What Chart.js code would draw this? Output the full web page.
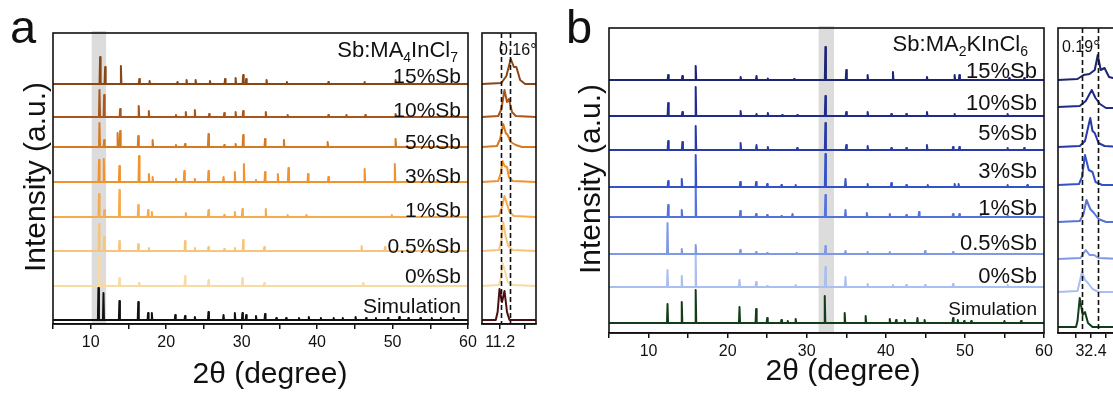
<!DOCTYPE html>
<html>
<head>
<meta charset="utf-8">
<script src="https://cdn.jsdelivr.net/npm/chart.js@4.4.1/dist/chart.umd.min.js"></script>
<style>
  body{margin:0;background:#fff;overflow:hidden;}
  #wrap{position:relative;width:1113px;height:394px;overflow:hidden;background:#fff;}
  canvas{position:absolute;left:0;top:0;}
</style>
</head>
<body>
<div id="wrap">
  <canvas id="aMain" width="1200" height="394"></canvas>
  <canvas id="aInset" width="1200" height="394"></canvas>
  <canvas id="bMain" width="1200" height="394"></canvas>
  <canvas id="bInset" width="1200" height="394"></canvas>
  <canvas id="deco" width="1200" height="394"></canvas>
</div>
<script>
const FONT = '"Liberation Sans", Arial, sans-serif';

// ---- data: sample names ----
const samples = ['15%Sb','10%Sb','5%Sb','3%Sb','1%Sb','0.5%Sb','0%Sb','Simulation'];

// ---- panel a: Sb:MA4InCl7, peaks as [2theta, height] ----
const peaksA15 = [[11.24,27],[11.91,17],[14.0,18],[16.44,5],[17.8,3],[21.5,2],[22.7,4],[23.9,4],[25.8,3],[27.8,5],[29.2,6],[30.2,9],[30.6,5],[33.3,4],[36.0,2],[41.5,2],[46.3,2],[50.4,4]];
const peaksA10 = [[11.16,27],[11.78,22],[13.9,8],[16.36,11],[17.7,6],[21.3,2],[22.6,5],[23.8,7],[25.7,3],[27.7,4],[29.2,5],[30.2,6],[33.2,5],[36.1,2],[41.5,2],[43.9,2],[46.4,2],[50.4,3]];
const peaksA5 = [[11.16,24],[11.78,7],[13.56,14],[13.9,16],[16.3,11],[18.2,7],[21.3,2],[22.5,3],[25.6,13],[27.7,2],[29.2,3],[30.2,12],[33.1,8],[35.6,7],[41.4,5],[50.4,8]];
const peaksA3 = [[11.1,22],[11.73,23],[13.8,16],[16.4,26],[17.7,8],[18.2,5],[21.3,3],[22.4,11],[23.8,3],[25.6,11],[27.6,5],[29.1,10],[30.3,18],[31.9,2],[33.1,10],[34.8,8],[36.2,14],[38.8,8],[41.5,5],[46.3,13],[50.3,18]];
const peaksA1 = [[11.1,23],[11.8,7],[13.8,27],[16.3,12],[17.6,7],[18.1,5],[22.6,4],[25.6,7],[27.7,2],[29.1,5],[30.1,8],[33.2,8],[36.1,2],[38.6,2],[49.9,2]];
const peaksA05 = [[11.1,27],[11.78,14],[13.8,10],[16.3,7],[17.7,3],[22.5,10],[23.8,3],[25.6,4],[27.7,2],[29.1,3],[30.2,11],[33.0,4],[45.9,5],[49.0,4]];
const peaksA0 = [[11.1,30],[11.78,6],[13.8,8],[16.4,3],[22.5,10],[25.6,6],[30.1,8],[33.0,3],[46.1,3]];
const peaksASim = [[11.02,32],[11.69,27],[13.8,19],[16.3,18],[17.6,7],[18.1,7],[21.2,5],[22.5,4],[23.8,3],[25.6,8],[27.6,5],[29.1,7],[30.1,7],[30.6,5],[31.9,4],[33.1,6],[34.6,2],[35.9,2],[37.6,2],[38.9,3],[40.5,2],[42.2,2],[43.4,2],[45.1,3],[46.5,2],[47.8,2],[49.4,2],[50.9,3],[52.1,2],[53.7,2],[55.2,2],[56.4,2],[58.1,2]];
const offsetsA = [240,207,177,142,107,73,38,4];

// panel a zoom (11.2 deg region), points as [2theta, height]
const zoomA15 = [[10.91,0],[11.22,1],[11.3,8],[11.37,25],[11.42,17],[11.46,17],[11.52,4],[11.6,0],[11.77,0]];
const zoomA10 = [[10.91,0],[11.17,1],[11.22,8],[11.27,27],[11.31,15],[11.34,18],[11.39,5],[11.45,1],[11.77,0]];
const zoomA5 = [[10.91,0],[11.15,1],[11.2,8],[11.25,23],[11.29,14],[11.32,12],[11.37,5],[11.45,2],[11.55,0],[11.77,0]];
const zoomA3 = [[10.91,0],[11.17,1],[11.21,9],[11.24,21],[11.27,16],[11.31,15],[11.34,5],[11.4,1],[11.77,0]];
const zoomA1 = [[10.91,0],[11.18,1],[11.23,10],[11.27,21],[11.31,13],[11.35,5],[11.42,1],[11.77,0]];
const zoomA05 = [[10.91,0],[11.18,1],[11.22,10],[11.25,29],[11.29,14],[11.33,5],[11.4,1],[11.77,0]];
const zoomA0 = [[10.91,0],[11.18,1],[11.21,8],[11.24,23],[11.28,14],[11.32,4],[11.4,1],[11.77,0]];
const zoomASim = [[10.91,0],[11.13,0],[11.16,8],[11.19,31],[11.23,18],[11.27,29],[11.31,8],[11.35,0],[11.77,0]];
const shiftA = [11.21, 11.35];   // dashed guide lines (0.16 deg)

// ---- panel b: Sb:MA2KInCl6 ----
const peaksB15 = [[12.48,5],[14.28,4],[15.96,14],[21.64,3],[23.65,4],[25.08,1.5],[28.4,1],[32.36,33],[35.0,10],[37.7,5],[40.9,8],[45.2,3],[48.7,5],[49.3,5],[55.6,2],[57.5,2]];
const peaksB10 = [[12.48,13],[14.28,4],[15.96,29],[21.64,5],[23.65,2],[25.08,3],[26.9,1],[28.8,1],[32.36,20],[35.0,4],[37.7,4],[40.7,2],[42.6,2],[45.2,4],[48.7,2],[55.4,2]];
const peaksB5 = [[12.48,9],[14.28,8],[15.96,24],[21.64,7],[23.65,5],[25.08,3],[28.8,2],[32.36,27],[35.0,5],[37.7,4],[40.7,2],[42.6,2],[45.2,5],[48.5,3],[49.3,3],[55.4,2],[57.5,2]];
const peaksB3 = [[12.48,6],[14.2,8],[15.96,32],[21.6,5],[23.6,5],[25.0,3],[26.8,2],[28.6,2],[32.36,33],[34.9,8],[37.7,3],[40.7,4],[42.6,2],[45.3,2],[48.7,3],[49.2,3],[55.4,2],[57.9,2]];
const peaksB1 = [[12.48,12],[14.2,7],[15.96,32],[21.6,6],[23.6,3],[25.0,2],[26.8,1],[28.2,3],[32.36,22],[34.9,7],[37.6,4],[40.5,3],[42.6,2],[44.2,5],[48.5,3],[49.3,3],[52.0,2],[55.4,2]];
const peaksB05 = [[12.4,31],[14.2,5],[15.96,9],[21.6,4],[23.6,2],[25.0,1],[28.7,1],[32.36,8],[34.9,3],[37.7,2],[40.5,2],[44.97,3],[48.5,2]];
const peaksB0 = [[12.4,17],[14.2,11],[15.96,32],[21.5,7],[23.6,5],[25.0,1],[28.6,2],[32.36,20],[34.9,10],[37.7,3],[40.9,2],[42.6,2],[44.97,2],[48.5,3],[55.4,2]];
const peaksBSim = [[12.4,19],[14.2,21],[15.96,33],[21.5,16],[23.6,14],[25.0,5],[26.8,3],[27.6,2],[28.6,4],[32.28,27],[34.8,10],[37.45,7],[40.5,4],[41.3,3],[42.4,3],[44.0,5],[44.9,3],[48.5,5],[49.1,3],[49.9,2],[50.8,2],[55.0,2],[57.1,2]];
const offsetsB = [253,217,183,146,116,79,46,10];

// panel b zoom (32.4 deg region)
const zoomB15 = [[31.96,0],[32.22,1],[32.3,5],[32.38,6],[32.45,10],[32.49,25],[32.53,10],[32.58,12],[32.64,3],[32.8,0]];
const zoomB10 = [[31.96,0],[32.25,1],[32.33,6],[32.41,17],[32.46,9],[32.52,3],[32.6,-1],[32.8,-1]];
const zoomB5 = [[31.96,0],[32.25,1],[32.32,6],[32.39,29],[32.42,16],[32.45,14],[32.5,4],[32.58,1],[32.8,0]];
const zoomB3 = [[31.96,0],[32.24,1],[32.28,8],[32.32,30],[32.37,15],[32.42,13],[32.46,3],[32.55,0],[32.8,0]];
const zoomB1 = [[31.96,0],[32.25,1],[32.3,8],[32.34,22],[32.39,13],[32.44,9],[32.5,3],[32.6,0],[32.8,0]];
const zoomB05 = [[31.96,0],[32.26,1],[32.33,9],[32.38,4],[32.44,4],[32.5,1],[32.8,0]];
const zoomB0 = [[31.96,0],[32.22,1],[32.28,20],[32.32,12],[32.36,9],[32.42,3],[32.5,0],[32.8,0]];
const zoomBSim = [[31.96,0],[32.2,0],[32.22,6],[32.25,29],[32.29,12],[32.32,15],[32.36,4],[32.42,0],[32.8,0]];
const zoomOffsetsB = [253,226,186,148,111,74,41,6];
const shiftB = [32.28, 32.49];   // dashed guide lines (0.19 deg)

// axis ticks
const mainTicks = [5,10,15,20,25,30,35,40,45,50,55,60];
const mainTickLabels = ['','10','','20','','30','','40','','50','','60'];
const zoomATicks = [11.2, 11.6];
const zoomATickLabels = ['11.2',''];
const zoomBTicks = [32.2, 32.4, 32.6];
const zoomBTickLabels = ['','32.4',''];

// highlighted 2theta ranges
const bandA = [10.13, 12.04];
const bandB = [31.5, 33.45];

// colours
const coloursA = ['#8a4716','#a8561b','#d47a22','#f1922f','#f5aa4c','#f7c47c','#f8daa3','#111111'];
const zoomSimColourA = '#4a0f12';
const coloursB = ['#1c2474','#1f2c8e','#2839a8','#3553c9','#5573dc','#7f99e6','#a9bef1','#123d19'];

// label baselines (in y data units of each panel)
const labelYA = [241,207,175,141,107,71,41,11];
const labelYB = [255,223,193,155,118,83,50,18];

// build a stick-like polyline from a peak list
function peakLine(peaks, off, xmin, xmax){
  const w = 0.07;
  const pts = [{x:xmin, y:off}];
  peaks.forEach(([p,h])=>{
    pts.push({x:p-w, y:off}); pts.push({x:p, y:off+h}); pts.push({x:p+w, y:off});
  });
  pts.push({x:xmax, y:off});
  return pts;
}
function zoomLine(points, off){
  return points.map(([x,h])=>({x:x, y:off+h}));
}

// plugin: band, dashed guides, frame and sample labels
const decorPlugin = {
  id:'decor',
  beforeDatasetsDraw(chart, args, o){
    const {ctx, chartArea:a, scales:{x}} = chart;
    if(o.band){
      ctx.save();
      ctx.fillStyle = '#dcdcdc';
      const x0 = x.getPixelForValue(o.band[0]), x1 = x.getPixelForValue(o.band[1]);
      ctx.fillRect(x0, a.top-2, x1-x0, a.bottom-a.top+1);
      ctx.restore();
    }
  },
  afterDatasetsDraw(chart, args, o){
    const {ctx, chartArea:a, scales:{x,y}} = chart;
    ctx.save();
    if(o.dashes){
      ctx.strokeStyle = '#111'; ctx.lineWidth = 1.6; ctx.setLineDash([5,3]);
      o.dashes.forEach(v=>{
        const px = Math.round(x.getPixelForValue(v))+0.5;
        ctx.beginPath(); ctx.moveTo(px, a.top); ctx.lineTo(px, a.bottom); ctx.stroke();
      });
      ctx.setLineDash([]);
    }
    if(o.labels){
      ctx.fillStyle = '#111'; ctx.textAlign = 'right'; ctx.textBaseline = 'alphabetic';
      o.labels.forEach((t,i)=>{
        const size = (t==='Simulation') ? o.simSize : o.labelSize;
        ctx.font = size+'px '+FONT;
        ctx.fillText(t, a.right - o.labelPad, y.getPixelForValue(o.labelY[i]));
      });
    }
    ctx.strokeStyle = '#111'; ctx.lineWidth = 1.6;
    ctx.strokeRect(a.left, a.top, a.right-a.left, a.bottom-a.top);
    ctx.restore();
  }
};

function makeChart(id, p){
  const datasets = p.lines.map((pts,i)=>({
    data: pts, borderColor: p.colours[i], borderWidth: 2,
    borderJoinStyle: 'round', borderCapStyle: 'round',
    pointRadius: 0, fill: false, tension: 0
  }));
  return new Chart(document.getElementById(id), {
    type: 'line',
    data: { datasets },
    options: {
      responsive: false, animation: false, events: [],
      layout: { padding: { left: p.area[0], top: p.area[1], right: 1200-p.area[2], bottom: 394-p.area[3]-40 } },
      plugins: {
        legend: {display:false}, tooltip: {enabled:false},
        decor: { band:p.band, dashes:p.dashes, labels:p.labels, labelY:p.labelY,
                 labelSize:p.labelSize, simSize:p.simSize, labelPad:7 }
      },
      scales: {
        x: {
          type: 'linear', min: p.xmin, max: p.xmax,
          afterFit(s){ s.height = 40; },
          afterBuildTicks(s){ s.ticks = p.ticks.map(v=>({value:v})); },
          grid: { drawOnChartArea:false, drawTicks:true, tickLength:5, color:'#111', lineWidth:1.5 },
          border: { display:true, color:'#111', width:1.6 },
          ticks: {
            autoSkip:false, maxRotation:0, padding:p.tickPad, color:'#111',
            font:{ family:FONT, size:16 },
            callback(v){ const i = p.ticks.indexOf(v); return i>=0 ? p.tickLabels[i] : ''; }
          }
        },
        y: { type:'linear', display:false, min:0, max:p.ymax }
      }
    },
    plugins: [decorPlugin]
  });
}

// ---- panel a ----
const peakSetsA = [peaksA15,peaksA10,peaksA5,peaksA3,peaksA1,peaksA05,peaksA0,peaksASim];
makeChart('aMain', {
  lines: peakSetsA.map((pk,i)=>peakLine(pk, offsetsA[i], 5, 60)),
  colours: coloursA, area:[53,33,468,324], xmin:5, xmax:60, ymax:291,
  ticks: mainTicks, tickLabels: mainTickLabels, tickPad:4,
  band: bandA, labels: samples, labelY: labelYA, labelSize:21, simSize:21
});
const zoomSetsA = [zoomA15,zoomA10,zoomA5,zoomA3,zoomA1,zoomA05,zoomA0,zoomASim];
makeChart('aInset', {
  lines: zoomSetsA.map((z,i)=>zoomLine(z, offsetsA[i])),
  colours: coloursA.slice(0,7).concat([zoomSimColourA]),
  area:[482,33,536,324], xmin:10.91, xmax:11.774, ymax:291,
  ticks: zoomATicks, tickLabels: zoomATickLabels, tickPad:4,
  dashes: shiftA
});

// ---- panel b ----
const peakSetsB = [peaksB15,peaksB10,peaksB5,peaksB3,peaksB1,peaksB05,peaksB0,peaksBSim];
makeChart('bMain', {
  lines: peakSetsB.map((pk,i)=>peakLine(pk, offsetsB[i], 5, 60)),
  colours: coloursB, area:[609,28,1044,333], xmin:5, xmax:60, ymax:305,
  ticks: mainTicks, tickLabels: mainTickLabels, tickPad:4,
  band: bandB, labels: samples, labelY: labelYB, labelSize:22, simSize:19
});
const zoomSetsB = [zoomB15,zoomB10,zoomB5,zoomB3,zoomB1,zoomB05,zoomB0,zoomBSim];
makeChart('bInset', {
  lines: zoomSetsB.map((z,i)=>zoomLine(z, zoomOffsetsB[i])),
  colours: coloursB, area:[1058,28,1121,333], xmin:31.96, xmax:32.8, ymax:305,
  ticks: zoomBTicks, tickLabels: zoomBTickLabels, tickPad:4,
  dashes: shiftB
});

// ---- titles, axis names, panel letters ----
function subText(ctx, parts, right, base, size){
  const sub = Math.round(size*0.62);
  let total = 0;
  parts.forEach(([t,s])=>{ ctx.font = (s?sub:size)+'px '+FONT; total += ctx.measureText(t).width; });
  let x = right - total;
  ctx.textAlign = 'left';
  parts.forEach(([t,s])=>{
    ctx.font = (s?sub:size)+'px '+FONT;
    ctx.fillText(t, x, base + (s ? size*0.22 : 0));
    x += ctx.measureText(t).width;
  });
}
(function drawDeco(){
  const ctx = document.getElementById('deco').getContext('2d');
  ctx.fillStyle = '#111';
  ctx.textBaseline = 'alphabetic';
  ctx.font = '47px '+FONT;
  ctx.fillText('a', 10, 43);
  ctx.fillText('b', 566, 43);
  ctx.font = '30px '+FONT; ctx.textAlign = 'center';
  ctx.fillText('2θ (degree)', 270, 383);
  ctx.fillText('2θ (degree)', 843, 380);
  ctx.save(); ctx.translate(45,177); ctx.rotate(-Math.PI/2); ctx.fillText('Intensity (a.u.)',0,0); ctx.restore();
  ctx.save(); ctx.translate(600,179); ctx.rotate(-Math.PI/2); ctx.fillText('Intensity (a.u.)',0,0); ctx.restore();
  subText(ctx, [['Sb:MA',0],['4',1],['InCl',0],['7',1]], 458, 57, 22);
  subText(ctx, [['Sb:MA',0],['2',1],['KInCl',0],['6',1]], 1028, 51, 22);
  ctx.textAlign = 'left'; ctx.font = '16px '+FONT;
  ctx.fillText('0.16°', 499, 55);
  ctx.fillText('0.19°', 1062, 52);
})();
</script>
</body>
</html>
